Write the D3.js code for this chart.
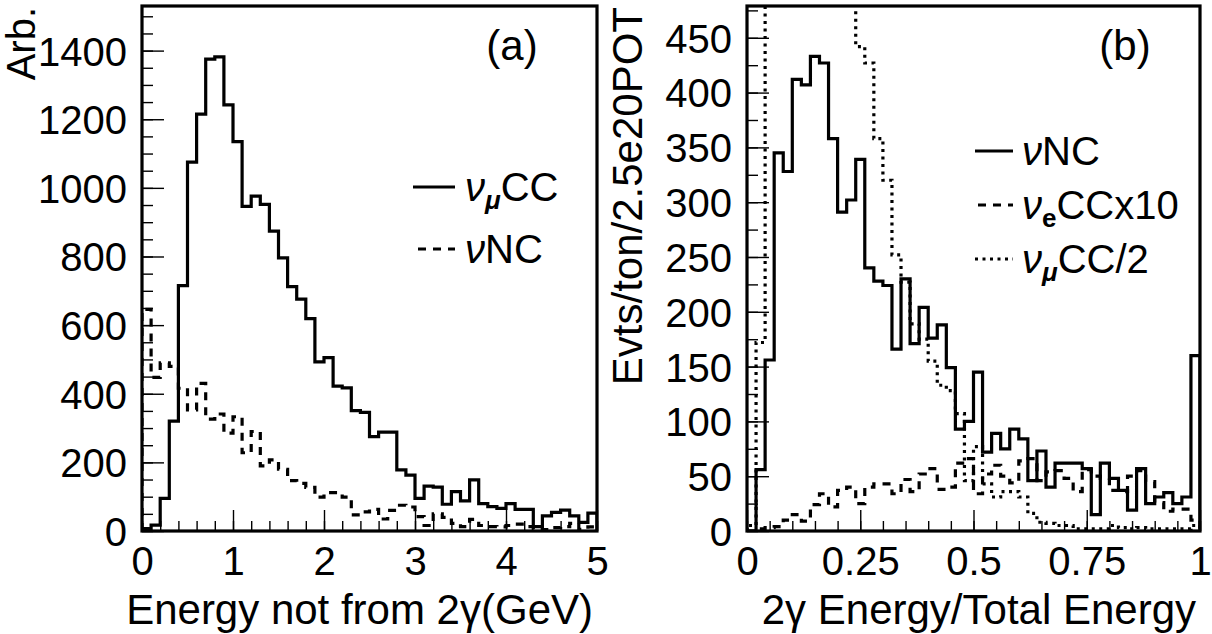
<!DOCTYPE html>
<html>
<head>
<meta charset="utf-8">
<script src="https://cdn.jsdelivr.net/npm/d3@7"></script>
<style>
  body { margin: 0; background: #fff; }
  text { font-family: "Liberation Sans", Arial, sans-serif; fill: #000; }
</style>
</head>
<body>
<div id="mainGraphic"></div>
<script>
let svgWidth = 1212
let svgHeight = 634

// panel (a): 50 bins of 0.1 GeV, energy not from the two photons
let binWidthA = 0.1
let numuCCa = [7, 17, 95, 320, 715, 1075, 1215, 1375, 1382, 1242,
  1135, 946, 976, 952, 874, 796, 712, 676, 619, 493,
  505, 422, 417, 351, 346, 275, 288, 288, 178, 163,
  95, 131, 128, 78, 115, 88, 149, 80, 71, 66,
  80, 63, 63, 13, 44, 54, 61, 44, 25, 52]
let nuNCa = [646, 448, 490, 480, 416, 353, 430, 326, 341, 285,
  333, 228, 290, 190, 207, 180, 147, 139, 127, 99,
  112, 112, 99, 47, 56, 63, 35, 60, 75, 70,
  42, 16, 50, 40, 22, 13, 34, 16, 13, 12,
  16, 20, 13, 5, 4, 10, 13, 22, 5, 12]

// panel (b): 50 bins of 0.02, 2gamma energy fraction
let binWidthB = 0.02
let nuNCb = [0, 56, 156, 345, 328, 412, 407, 433, 427, 358,
  291, 302, 339, 240, 228, 224, 166, 230, 171, 204,
  176, 188, 149, 93, 100, 145, 72, 89, 75, 93,
  84, 46, 73, 40, 62, 62, 62, 57, 15, 62,
  48, 37, 19, 57, 25, 31, 35, 25, 31, 160]
let nueCCx10b = [0, 2, 3, 4, 10, 15, 9, 24, 34, 22,
  37, 40, 25, 40, 43, 43, 34, 47, 36, 52,
  57, 38, 40, 62, 66, 34, 52, 60, 50, 44,
  64, 66, 46, 54, 55, 48, 36, 56, 50, 48,
  37, 36, 50, 55, 45, 26, 18, 20, 20, 10]
let numuCChalfb = [5, 172, 980, 1240, 1320, 1210, 1090, 930, 820, 700,
  610, 520, 442, 427, 358, 320, 252, 227, 189, 175,
  155, 133, 128, 107, 46, 77, 43, 31, 36, 36,
  31, 16, 8, 7, 5, 5, 2, 2, 2, 2,
  5, 3, 2, 3, 2, 2, 2, 2, 2, 5]

let xTicksA = [0, 1, 2, 3, 4, 5]
let yTicksA = [0, 200, 400, 600, 800, 1000, 1200, 1400]
let xTicksB = [0, 0.25, 0.5, 0.75, 1]
let yTicksB = [0, 50, 100, 150, 200, 250, 300, 350, 400, 450]

let svg = d3.select("#mainGraphic")
  .append("svg")
    .attr("width", svgWidth)
    .attr("height", svgHeight)

let plotTop = 6, plotBottom = 531

drawPanel({
  id: "a", left: 142, right: 597, xMax: 5, yMax: 1530,
  xTicks: xTicksA, xMinor: d3.range(0, 5.001, 0.2),
  yTicks: yTicksA, yMinor: d3.range(0, 1530, 50),
  xTitle: "Energy not from 2\u03b3(GeV)", yTitle: "Arb.", yTitleX: 35, yTitleSize: 40,
  tag: "(a)", tagX: 512,
  series: [
    { values: numuCCa, bw: binWidthA, dash: null },
    { values: nuNCa, bw: binWidthA, dash: "8,7" }
  ]
})

drawPanel({
  id: "b", left: 747, right: 1200, xMax: 1, yMax: 479,
  xTicks: xTicksB, xMinor: d3.range(0, 1.001, 0.05),
  yTicks: yTicksB, yMinor: d3.range(0, 479, 25),
  xTitle: "2\u03b3 Energy/Total Energy", yTitle: "Evts/ton/2.5e20POT", yTitleX: 642, yTitleSize: 42,
  tag: "(b)", tagX: 1125,
  series: [
    { values: nuNCb, bw: binWidthB, dash: null },
    { values: nueCCx10b, bw: binWidthB, dash: "8,7" },
    { values: numuCChalfb, bw: binWidthB, dash: "3,4.5" }
  ]
})

// legends
legend(413, 455, 187, 465, null, [["\u03bd", "it"], ["\u03bc", "sub"], ["CC", ""]])
legend(418, 455, 249, 465, "8,7", [["\u03bd", "it"], ["NC", ""]])
legend(975, 1013, 151, 1022, null, [["\u03bd", "it"], ["NC", ""]])
legend(978, 1013, 205, 1022, "8,7", [["\u03bd", "it"], ["e", "subb"], ["CCx10", ""]])
legend(975, 1013, 259, 1022, "3,4.5", [["\u03bd", "it"], ["\u03bc", "sub"], ["CC/2", ""]])

function drawPanel(p) {
  let x = d3.scaleLinear().domain([0, p.xMax]).range([p.left, p.right])
  let y = d3.scaleLinear().domain([0, p.yMax]).range([plotBottom, plotTop])
  let g = svg.append("g")

  svg.append("clipPath").attr("id", "clip" + p.id)
    .append("rect")
      .attr("x", p.left).attr("y", plotTop)
      .attr("width", p.right - p.left).attr("height", plotBottom - plotTop)

  // histograms as step outlines
  let line = d3.line()
    .x(d => x(d[0]))
    .y(d => y(d[1]))
    .curve(d3.curveStepAfter)
  p.series.forEach(s => {
    let pts = [[0, 0]]
    s.values.forEach((v, i) => pts.push([i * s.bw, v]))
    pts.push([p.xMax, s.values[s.values.length - 1]])
    pts.push([p.xMax, 0])
    g.append("path")
      .attr("clip-path", "url(#clip" + p.id + ")")
      .attr("d", line(pts))
      .attr("fill", "none")
      .attr("stroke", "#000")
      .attr("stroke-width", 3.2)
      .attr("stroke-dasharray", s.dash)
  })

  // minor ticks, then major ticks with labels
  g.append("g")
    .attr("transform", "translate(" + p.left + ",0)")
    .call(d3.axisLeft(y).tickValues(p.yMinor).tickSize(-11).tickFormat(""))
  g.append("g")
    .attr("transform", "translate(0," + plotBottom + ")")
    .call(d3.axisBottom(x).tickValues(p.xMinor).tickSize(-10).tickFormat(""))
  let ya = g.append("g")
    .attr("transform", "translate(" + p.left + ",0)")
    .call(d3.axisLeft(y).tickValues(p.yTicks).tickSize(-22).tickPadding(15).tickFormat(d => String(d)))
  let xa = g.append("g")
    .attr("transform", "translate(0," + plotBottom + ")")
    .call(d3.axisBottom(x).tickValues(p.xTicks).tickSize(-21).tickPadding(16).tickFormat(d => String(d)))
  g.selectAll(".domain").remove()
  g.selectAll(".tick line").attr("stroke", "#000").attr("stroke-width", 1.4)
  ya.selectAll("text").style("font-size", "40px").attr("dy", "0.36em")
  xa.selectAll("text").style("font-size", "40px")

  // frame
  g.append("rect")
    .attr("x", p.left).attr("y", plotTop)
    .attr("width", p.right - p.left).attr("height", plotBottom - plotTop)
    .attr("fill", "none").attr("stroke", "#000").attr("stroke-width", 3.2)

  g.append("text")
    .attr("x", p.right - 4).attr("y", 624)
    .attr("text-anchor", "end")
    .style("font-size", "42px")
    .text(p.xTitle)
  g.append("text")
    .attr("transform", "translate(" + p.yTitleX + "," + 7 + ") rotate(-90)")
    .attr("text-anchor", "end")
    .style("font-size", p.yTitleSize + "px")
    .text(p.yTitle)
  g.append("text")
    .attr("x", p.tagX).attr("y", 60)
    .attr("text-anchor", "middle")
    .style("font-size", "42px")
    .text(p.tag)
}

function legend(x1, x2, ly, tx, dash, parts) {
  svg.append("line")
    .attr("x1", x1).attr("x2", x2).attr("y1", ly).attr("y2", ly)
    .attr("stroke", "#000").attr("stroke-width", 3)
    .attr("stroke-dasharray", dash)
  let t = svg.append("text")
    .attr("x", tx).attr("y", ly + 14)
    .style("font-size", "40px")
  parts.forEach(pt => {
    let s = t.append("tspan").text(pt[0])
    if (pt[1] == "it") s.style("font-style", "italic")
    if (pt[1] == "sub" || pt[1] == "subb") {
      s.style("font-size", "26px").style("font-weight", "bold").attr("dy", 8)
      if (pt[1] == "sub") s.style("font-style", "italic")
    }
    if (pt[1] == "" && parts.length == 3) s.attr("dy", -8)
  })
}
</script>
</body>
</html>
